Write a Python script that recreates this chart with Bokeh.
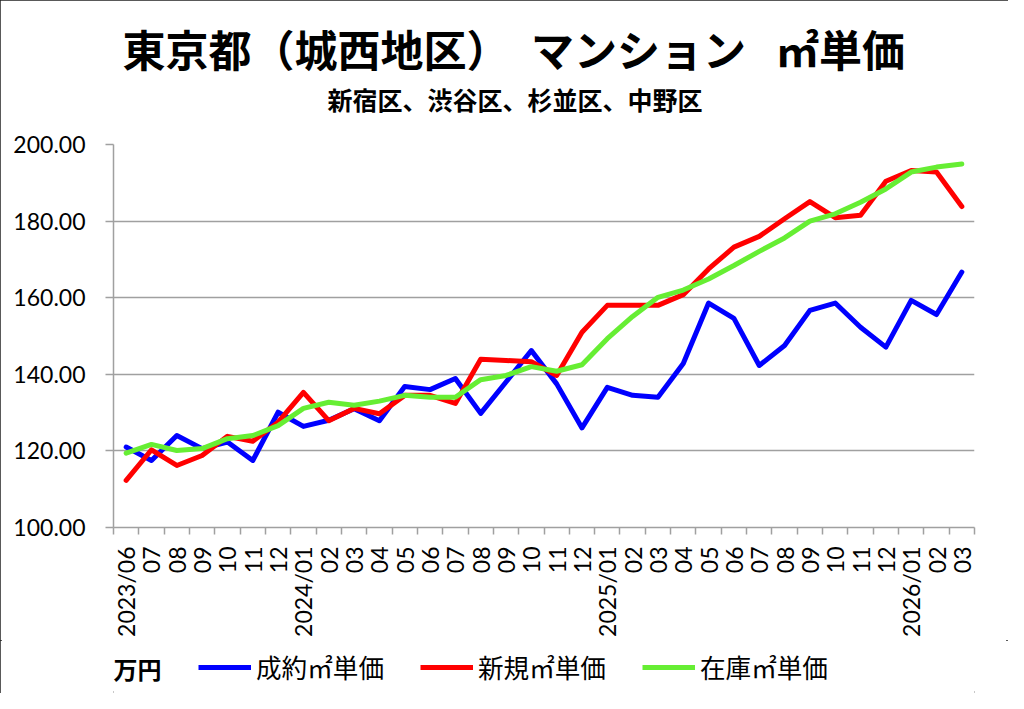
import math
from bokeh.plotting import figure
from bokeh.layouts import column
from bokeh.models import (Range1d, FixedTicker, PrintfTickFormatter, Title,
                          Legend, LegendItem, Label)
from bokeh.embed import file_html
from bokeh.resources import INLINE

# ---- data -------------------------------------------------------------
months = ["2023/06", "07", "08", "09", "10", "11", "12",
          "2024/01", "02", "03", "04", "05", "06", "07", "08", "09", "10", "11", "12",
          "2025/01", "02", "03", "04", "05", "06", "07", "08", "09", "10", "11", "12",
          "2026/01", "02", "03"]

seiyaku = [121.0, 117.5, 124.0, 120.6, 122.3, 117.5, 130.1, 126.4, 128.0, 131.0,
           127.9, 136.8, 136.0, 138.9, 129.8, 138.0, 146.2, 137.5, 126.0, 136.6,
           134.5, 134.0, 142.8, 158.6, 154.6, 142.3, 147.5, 156.7, 158.6, 152.3,
           147.1, 159.3, 155.6, 166.7]

shinki = [112.3, 120.3, 116.2, 118.8, 123.8, 122.5, 127.5, 135.3, 127.9, 131.1,
          129.7, 134.5, 134.5, 132.4, 143.9, 143.6, 143.3, 139.7, 151.0, 158.0,
          158.0, 158.0, 160.8, 167.5, 173.2, 176.0, 180.6, 185.1, 180.9, 181.5,
          190.4, 193.2, 192.8, 183.8]

zaiko = [119.4, 121.7, 120.1, 120.6, 123.2, 124.0, 126.6, 131.1, 132.7, 131.9,
         133.0, 134.5, 134.0, 134.0, 138.6, 139.7, 142.0, 140.8, 142.5, 149.3,
         155.1, 160.1, 162.0, 164.9, 168.4, 172.1, 175.6, 180.0, 181.9, 184.9,
         188.4, 192.8, 194.1, 194.9]

y_ticks = [100, 120, 140, 160, 180, 200]

series_names = ["成約㎡単価", "新規㎡単価", "在庫㎡単価"]
series_colors = ["#0000ff", "#ff0000", "#66ee33"]

title_text = "東京都（城西地区）\u2002マンション\u2002\u2009㎡単価"
subtitle_text = "新宿区、渋谷区、杉並区、中野区"
unit_text = "万円"

JP = "Noto Sans CJK JP"
NUM = "Lato"
GRID = "#a0a0a0"

# ---- main figure ------------------------------------------------------
n = len(months)
xs = list(range(n))
series = [seiyaku, shinki, zaiko]

p = figure(width=1008, height=640, output_backend="svg", toolbar_location=None,
           x_range=Range1d(-0.5, n - 0.5), y_range=Range1d(100, 200),
           min_border_left=113, min_border_right=34,
           min_border_top=144, min_border_bottom=113)
p.outline_line_color = None
p.background_fill_color = "white"
p.border_fill_color = "white"

# titles: spacer (nearest the frame), subtitle, main title
p.add_layout(Title(text=" ", text_font_size="1px", standoff=25), "above")
p.add_layout(Title(text=subtitle_text, align="left", offset=214, standoff=0,
                   text_font=JP, text_font_size="25px", text_font_style="bold",
                   text_color="black"), "above")
p.add_layout(Title(text=title_text, align="left", offset=9, standoff=0,
                   text_font=JP, text_font_size="43px", text_font_style="bold",
                   text_color="black"), "above")

for vals, col in zip(series, series_colors):
    p.line(xs, vals, line_color=col, line_width=5, line_join="round", line_cap="round")

# y axis
yax = p.yaxis[0]
yax.ticker = FixedTicker(ticks=y_ticks)
yax.formatter = PrintfTickFormatter(format="%.2f")
yax.major_tick_out = 8
yax.major_tick_in = 0
yax.minor_tick_out = 0
yax.minor_tick_in = 0
yax.axis_line_color = GRID
yax.axis_line_width = 1.5
yax.major_tick_line_color = GRID
yax.major_tick_line_width = 1.5
yax.major_label_standoff = 20
yax.major_label_text_font = NUM
yax.major_label_text_font_size = "23px"
yax.major_label_text_color = "black"

# x axis: labels at category centres, ticks at boundaries
xax = p.xaxis[0]
xax.ticker = FixedTicker(ticks=xs, minor_ticks=[i - 0.5 for i in range(n + 1)])
xax.major_label_overrides = {i: m for i, m in enumerate(months)}
xax.major_label_orientation = math.pi / 2
xax.major_tick_out = 0
xax.major_tick_in = 0
xax.minor_tick_out = 7
xax.minor_tick_in = 0
xax.minor_tick_line_color = GRID
xax.minor_tick_line_width = 1.5
xax.axis_line_color = GRID
xax.axis_line_width = 1.5
xax.major_label_standoff = 12
xax.major_label_text_font = NUM
xax.major_label_text_font_size = "23px"
xax.major_label_text_color = "black"

p.xgrid.grid_line_color = None
p.ygrid.ticker = FixedTicker(ticks=y_ticks)
p.ygrid.grid_line_color = GRID
p.ygrid.grid_line_width = 1.5

# ---- legend strip (separate figure under the chart) -------------------
lg = figure(width=1008, height=53, output_backend="svg", toolbar_location=None,
            x_range=Range1d(0, 1), y_range=Range1d(0, 1),
            x_axis_type=None, y_axis_type=None,
            min_border_left=0, min_border_right=0, min_border_top=0, min_border_bottom=0)
lg.outline_line_color = None
lg.grid.visible = False
lg.background_fill_color = "white"
lg.border_fill_color = "white"

# legend proxies: the same series, lying outside this strip's ranges
proxies = [lg.line(xs, vals, line_color=col, line_width=5)
           for vals, col in zip(series, series_colors)]
legend = Legend(items=[LegendItem(label=nm, renderers=[r])
                       for nm, r in zip(series_names, proxies)],
                orientation="horizontal", location=(85, 8),
                glyph_width=53, glyph_height=20, label_standoff=5, spacing=36,
                padding=0, margin=0,
                label_text_font=JP, label_text_font_size="25.6px",
                label_text_color="black",
                border_line_alpha=0, background_fill_alpha=0)
lg.add_layout(legend, "center")
lg.add_layout(Label(x=0, y=25, x_units="screen", y_units="screen",
                    text=unit_text, text_font=JP, text_font_size="24px",
                    text_font_style="bold", text_baseline="middle",
                    text_align="left", text_color="black"))

layout = column(p, lg, spacing=0,
                styles={"outline": "2px solid #222", "outline-offset": "-2px"})

open("out.html", "w").write(file_html(layout, INLINE))
